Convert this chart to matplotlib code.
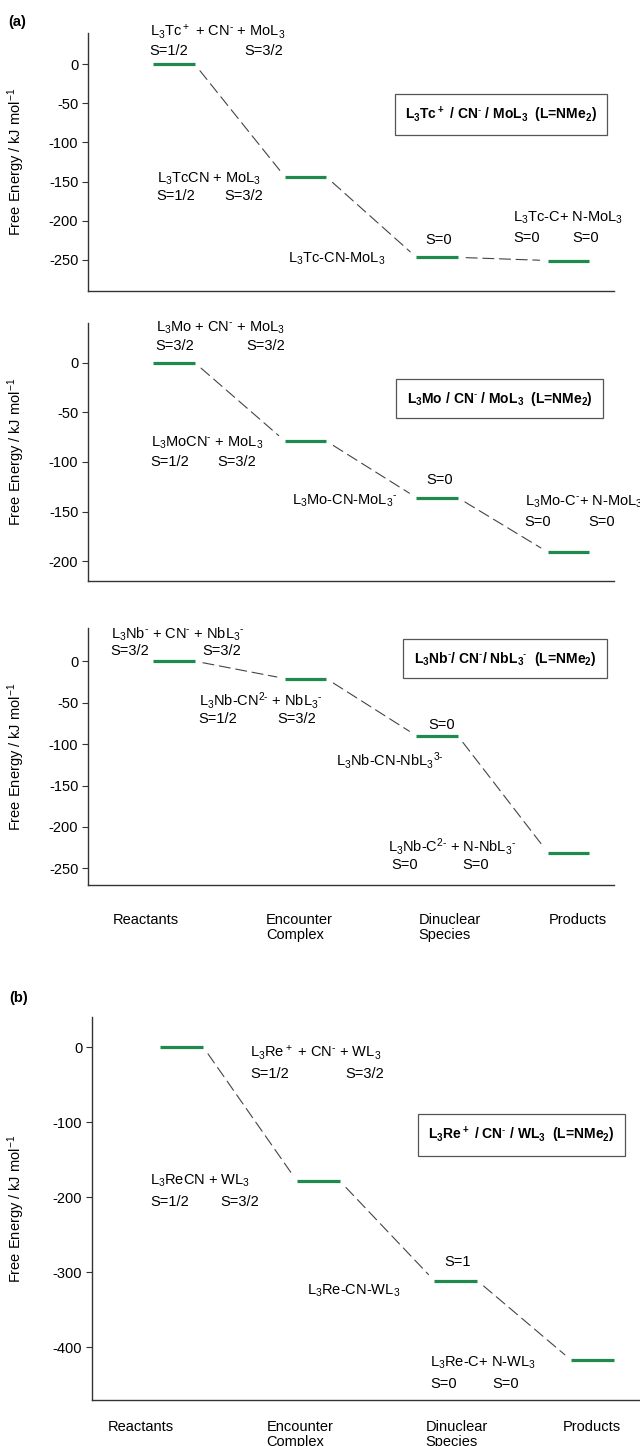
import numpy as np
import matplotlib
matplotlib.use('Agg')
import matplotlib.pyplot as plt

plt.rcParams['font.family'] = 'Liberation Sans'
plt.rcParams['mathtext.fontset'] = 'custom'
plt.rcParams['mathtext.rm'] = 'Liberation Sans'
plt.rcParams['mathtext.bf'] = 'Liberation Sans:bold'
plt.rcParams['mathtext.default'] = 'regular'
plt.rcParams['axes.unicode_minus'] = False

# data: free energies (kJ/mol) for the four stages
stages = [1, 2, 3, 4]
stage_names = ['Reactants', 'Encounter\nComplex', 'Dinuclear\nSpecies', 'Products']
energy_tc = [0, -144, -247, -251]
energy_mo = [0, -79, -136, -191]
energy_nb = [0, -21, -90, -231]
energy_re = [0, -179, -311, -417]

ticks_tc = [0, -50, -100, -150, -200, -250]
ticks_mo = [0, -50, -100, -150, -200]
ticks_nb = [0, -50, -100, -150, -200, -250]
ticks_re = [0, -100, -200, -300, -400]

M = r'$^{\text{-}}$'  # small superscript hyphen

title_tc = r'L$_3$Tc$^+$ / CN' + M + r' / MoL$_3$  (L=NMe$_2$)'
title_mo = r'L$_3$Mo / CN' + M + r' / MoL$_3$  (L=NMe$_2$)'
title_nb = r'L$_3$Nb' + M + '/ CN' + M + r'/ NbL$_3$' + M + r'  (L=NMe$_2$)'
title_re = r'L$_3$Re$^+$ / CN' + M + r' / WL$_3$  (L=NMe$_2$)'

# labels: (x, y, text)
labels_tc = [
    (0.814, 42, r'L$_3$Tc$^+$ + CN' + M + r' + MoL$_3$'),
    (0.814, 17, 'S=1/2'), (1.536, 17, 'S=3/2'),
    (0.867, -147, r'L$_3$TcCN + MoL$_3$'),
    (0.867, -169, 'S=1/2'), (1.384, -169, 'S=3/2'),
    (1.863, -249, r'L$_3$Tc-CN-MoL$_3$'),
    (2.913, -225, 'S=0'),
    (3.58, -196, r'L$_3$Tc-C+ N-MoL$_3$'),
    (3.58, -222, 'S=0'), (4.03, -222, 'S=0'),
]
labels_mo = [
    (0.859, 35, r'L$_3$Mo + CN' + M + r' + MoL$_3$'),
    (0.859, 17, 'S=3/2'), (1.551, 17, 'S=3/2'),
    (0.821, -81, r'L$_3$MoCN' + M + r' + MoL$_3$'),
    (0.821, -100, 'S=1/2'), (1.33, -100, 'S=3/2'),
    (1.894, -139, r'L$_3$Mo-CN-MoL$_3$' + M),
    (2.92, -118, 'S=0'),
    (3.665, -140, r'L$_3$Mo-C' + M + r'+ N-MoL$_3$'),
    (3.665, -161, 'S=0'), (4.15, -161, 'S=0'),
]
labels_nb = [
    (0.517, 33, r'L$_3$Nb' + M + ' + CN' + M + r' + NbL$_3$' + M),
    (0.517, 12, 'S=3/2'), (1.217, 12, 'S=3/2'),
    (1.186, -47, r'L$_3$Nb-CN$^{2\text{-}}$ + NbL$_3$' + M),
    (1.186, -70, 'S=1/2'), (1.787, -70, 'S=3/2'),
    (2.935, -77, 'S=0'),
    (2.228, -120, r'L$_3$Nb-CN-NbL$_3$$^{3\text{-}}$'),
    (2.624, -223, r'L$_3$Nb-C$^{2\text{-}}$ + N-NbL$_3$' + M),
    (2.654, -246, 'S=0'), (3.194, -246, 'S=0'),
]
labels_re = [
    (1.5, -8, r'L$_3$Re$^+$ + CN' + M + r' + WL$_3$'),
    (1.5, -36, 'S=1/2'), (2.193, -36, 'S=3/2'),
    (0.77, -178, r'L$_3$ReCN + WL$_3$'),
    (0.77, -206, 'S=1/2'), (1.281, -206, 'S=3/2'),
    (1.916, -324, r'L$_3$Re-CN-WL$_3$'),
    (2.916, -286, 'S=1'),
    (2.814, -421, r'L$_3$Re-C+ N-WL$_3$'),
    (2.814, -449, 'S=0'), (3.266, -449, 'S=0'),
]

W, H = 640, 1446
fig = plt.figure(figsize=(W / 100, H / 100), dpi=100)


def make_ax(left, right, top, bottom):
    return fig.add_axes([left / W, 1 - bottom / H, (right - left) / W, (bottom - top) / H])


green = '#1f8a4c'
half = 0.157


def draw_panel(ax, energies, ticks, ylim, title, labels, box_xy, ylab_x):
    ax.set_xlim(0.345, 4.345)
    ax.set_ylim(*ylim)
    for s in ['top', 'right']:
        ax.spines[s].set_visible(False)
    for s in ['left', 'bottom']:
        ax.spines[s].set_color('#333333')
        ax.spines[s].set_linewidth(1.0)
    ax.set_xticks([])
    ax.set_yticks(ticks)
    ax.set_yticklabels([str(t) for t in ticks])
    ax.tick_params(axis='y', length=4, width=0.8, color='#333333', labelsize=10.5, pad=3)
    ax.set_ylabel('Free Energy / kJ mol$^{-1}$', fontsize=10.5)
    ax.yaxis.set_label_coords(ylab_x, 0.5)

    for x, e in zip(stages, energies):
        ax.plot([x - half, x + half], [e, e], color=green, lw=2.3, solid_capstyle='butt')
    for i in range(len(stages) - 1):
        ax.annotate('', xy=(stages[i + 1] - half, energies[i + 1]),
                    xytext=(stages[i] + half, energies[i]),
                    arrowprops=dict(arrowstyle='-', color='#444444', lw=0.8,
                                    linestyle=(0, (10, 5)), shrinkA=6, shrinkB=6))
    for x, y, t in labels:
        ax.text(x, y, t, fontsize=10.5, ha='left', va='center', clip_on=False)
    ax.text(box_xy[0], box_xy[1], title, fontsize=10, fontweight='bold',
            transform=ax.transAxes, ha='center', va='center',
            bbox=dict(boxstyle='square,pad=0.75', fc='white', ec='#555555', lw=0.9))


ax1 = make_ax(88, 614, 33, 291)
draw_panel(ax1, energy_tc, ticks_tc, (-290, 40), title_tc, labels_tc,
           ((501 - 88) / 526, (291 - 114.5) / 258), (27 - 88) / 526)
ax2 = make_ax(88, 614, 323, 581)
draw_panel(ax2, energy_mo, ticks_mo, (-220, 40), title_mo, labels_mo,
           ((499.5 - 88) / 526, (581 - 398.5) / 258), (27 - 88) / 526)
ax3 = make_ax(88, 614, 628, 885)
draw_panel(ax3, energy_nb, ticks_nb, (-270, 40), title_nb, labels_nb,
           ((505 - 88) / 526, (885 - 658.5) / 257), (27 - 88) / 526)
ax4 = make_ax(92, 640, 1017, 1400)
draw_panel(ax4, energy_re, ticks_re, (-470, 40), title_re, labels_re,
           ((521.5 - 92) / 548, (1400 - 1135) / 383), (27 - 92) / 548)

# category labels below panels
cat_x_a = [0.532, 1.70, 2.86, 3.85]
cat_x_b = [0.46, 1.62, 2.78, 3.78]
for x, name in zip(cat_x_a, stage_names):
    ax3.text(x, (885 - 913) / 257, name, transform=ax3.get_xaxis_transform(),
             fontsize=10.5, ha='left', va='top', linespacing=1.1, clip_on=False)
for x, name in zip(cat_x_b, stage_names):
    ax4.text(x, (1400 - 1420) / 383, name, transform=ax4.get_xaxis_transform(),
             fontsize=10.5, ha='left', va='top', linespacing=1.1, clip_on=False)

fig.text(8 / W, 1 - 22 / H, '(a)', fontsize=10.5, fontweight='bold', va='center', ha='left')
fig.text(9 / W, 1 - 998 / H, '(b)', fontsize=10.5, fontweight='bold', va='center', ha='left')

fig.savefig('out.png', dpi=100)
